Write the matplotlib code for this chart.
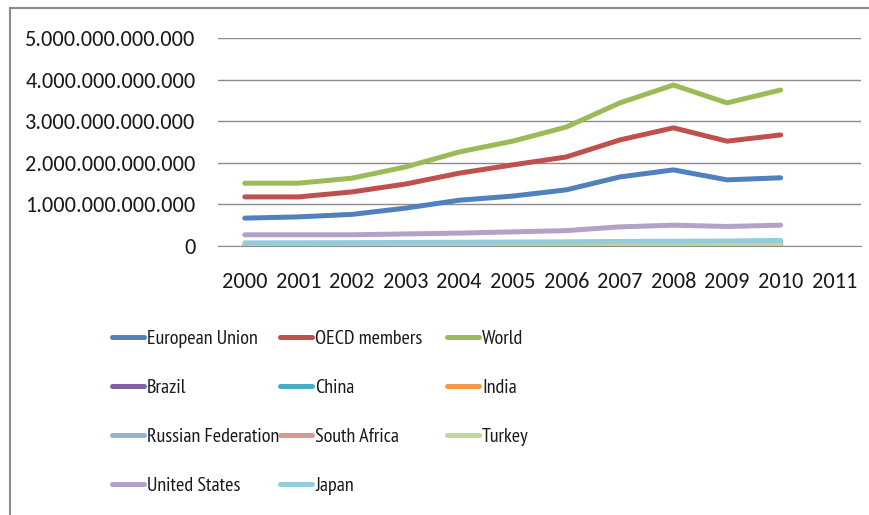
import matplotlib.pyplot as plt
from matplotlib.lines import Line2D
from matplotlib.ticker import FuncFormatter

plt.rcParams['font.family'] = ['Carlito', 'Open Sans Condensed', 'DejaVu Sans']

years = ['2000', '2001', '2002', '2003', '2004', '2005',
         '2006', '2007', '2008', '2009', '2010', '2011']

# values in trillions, 2000-2010
european_union = [0.67, 0.70, 0.76, 0.91, 1.10, 1.20, 1.35, 1.66, 1.83, 1.59, 1.64]
oecd_members = [1.18, 1.18, 1.30, 1.49, 1.75, 1.95, 2.14, 2.55, 2.84, 2.52, 2.67]
world = [1.51, 1.51, 1.63, 1.90, 2.26, 2.52, 2.86, 3.44, 3.87, 3.44, 3.75]
brazil = [0.010, 0.009, 0.009, 0.010, 0.013, 0.015, 0.018, 0.023, 0.028, 0.025, 0.032]
china = [0.020, 0.023, 0.028, 0.036, 0.047, 0.058, 0.070, 0.082, 0.092, 0.085, 0.100]
india = [0.005, 0.005, 0.006, 0.007, 0.009, 0.011, 0.014, 0.018, 0.020, 0.020, 0.025]
russian_federation = [0.005, 0.006, 0.007, 0.009, 0.011, 0.014, 0.019, 0.027, 0.035, 0.024, 0.030]
south_africa = [0.004, 0.004, 0.004, 0.005, 0.007, 0.008, 0.009, 0.010, 0.010, 0.009, 0.011]
turkey = [0.012, 0.010, 0.011, 0.014, 0.018, 0.021, 0.024, 0.028, 0.030, 0.025, 0.030]
united_states = [0.27, 0.27, 0.27, 0.29, 0.31, 0.34, 0.37, 0.46, 0.50, 0.47, 0.50]
japan = [0.075, 0.078, 0.080, 0.085, 0.090, 0.095, 0.100, 0.110, 0.115, 0.120, 0.135]

series = [
    ('European Union', european_union, '#4F81BD'),
    ('OECD members', oecd_members, '#C0504D'),
    ('World', world, '#9BBB59'),
    ('Brazil', brazil, '#8064A2'),
    ('China', china, '#4BACC6'),
    ('India', india, '#F79646'),
    ('Russian Federation', russian_federation, '#95B3D7'),
    ('South Africa', south_africa, '#D99694'),
    ('Turkey', turkey, '#C3D69B'),
    ('United States', united_states, '#B3A2C7'),
    ('Japan', japan, '#93CDDD'),
]

fig = plt.figure(figsize=(8.7, 5.15), dpi=100)
ax = fig.add_axes([218 / 870, 1 - 246 / 515, 643 / 870, 208 / 515])

handles = []
for name, vals, color in series:
    line, = ax.plot(range(len(vals)), [v * 1e12 for v in vals], color=color,
                    lw=3.6, solid_capstyle='round', label=name)
    handles.append(line)

ax.set_xlim(-0.5, len(years) - 0.5)
ax.set_ylim(0, 5e12)
ax.set_xticks(range(len(years)))
ax.set_xticklabels(years)
ax.set_yticks([i * 1e12 for i in range(6)])
ax.yaxis.set_major_formatter(FuncFormatter(lambda v, p: f'{int(round(v)):,}'.replace(',', '.')))
ax.grid(axis='y', color='#8c8c8c', lw=1)
ax.set_axisbelow(True)
for s in ['top', 'right', 'left']:
    ax.spines[s].set_visible(False)
ax.spines['bottom'].set_color('#8c8c8c')
ax.tick_params(axis='x', length=0, pad=19, labelsize=16, colors='#1a1a1a')
ax.tick_params(axis='y', length=0, pad=16, labelsize=16, colors='#1a1a1a')

# legend laid out in three fixed-width columns, filled row by row
col_x = [112, 280, 447]
for c, x in enumerate(col_x):
    idx = list(range(c, len(series), 3))
    fig.legend([handles[i] for i in idx], [series[i][0] for i in idx],
               loc='upper left', bbox_to_anchor=(x / 870, 1 - 330 / 515),
               frameon=False, handlelength=1.6, handletextpad=0.15,
               labelspacing=1.53, borderpad=0, borderaxespad=0,
               labelcolor='#1a1a1a',
               prop={'family': ['PT Sans Narrow', 'Open Sans Condensed', 'DejaVu Sans'],
                     'size': 14.5})

# chart border
fig.add_artist(Line2D([10 / 870, 10 / 870], [0, 1 - 8 / 515], color='#8c8c8c', lw=1.5))
fig.add_artist(Line2D([10 / 870, 1], [1 - 8 / 515, 1 - 8 / 515], color='#8c8c8c', lw=1.5))

fig.savefig('out.png', dpi=100)
